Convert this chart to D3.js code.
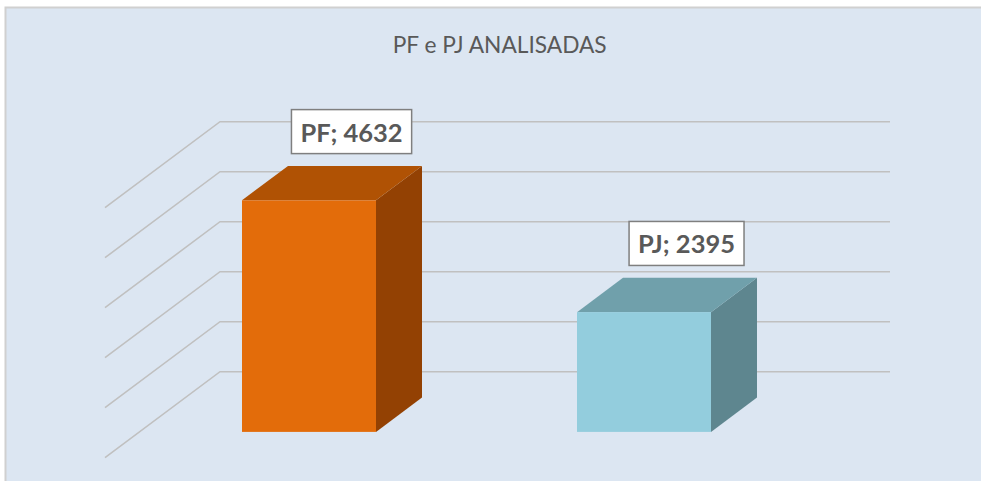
<!DOCTYPE html>
<html>
<head>
<meta charset="utf-8">
<script src="https://cdn.jsdelivr.net/npm/d3@7"></script>
<style>
  html, body { margin: 0; padding: 0; background: #fff; }
  svg { display: block; }
</style>
</head>
<body>
<svg id="output"></svg>
<script>
// chart data
const categories = ["PF", "PJ"];
const values = [4632, 2395];
const yTicks = [0, 1000, 2000, 3000, 4000, 5000];
const chartTitle = "PF e PJ ANALISADAS";

const width = 981;
const height = 481;

// 3d look: how far the front edge of the floor sits from the back wall
const depthX = -115;
const depthY = 86;
// bars sit between these depths (0 = back wall, 1 = front)
const barBack = 0.3;
const barFront = 0.7;

const svg = d3.select("#output")
    .attr("width", width)
    .attr("height", height);

// chart area with its thin grey border (only left/top visible)
svg.append("rect")
    .attr("x", 5.5).attr("y", 7.5)
    .attr("width", 990).attr("height", 490)
    .attr("fill", "#dce6f2")
    .attr("stroke", "#d0d0d0")
    .attr("stroke-width", 2);

const xScale = d3.scaleBand()
    .domain(categories)
    .range([222, 892])
    .paddingInner(0.6)
    .paddingOuter(0.3);

const yScale = d3.scaleLinear()
    .domain([0, 5000])
    .range([371.7, 121.7]);

function px(wallX, d){ return wallX + depthX * d; }
function py(wallY, d){ return wallY + depthY * d; }

// gridlines: diagonal on the side wall, then flat along the back wall
svg.append("g")
    .selectAll("polyline")
    .data(yTicks)
    .enter()
    .append("polyline")
    .attr("points", function(t){
        const y = yScale(t);
        return [[px(220, 1), py(y, 1)], [220, y], [890, y]].join(" ");
    })
    .attr("fill", "none")
    .attr("stroke", "#c0c0c0")
    .attr("stroke-width", 1.6);

const colors = [
    { front: "#e36c0a", top: "#b05204", side: "#934103" },
    { front: "#93cddd", top: "#70a0ab", side: "#5e868f" }
];

const bars = svg.append("g")
    .selectAll("g")
    .data(categories.map(function(c, i){ return { cat: c, val: values[i], col: colors[i] }; }))
    .enter()
    .append("g");

// side face
bars.append("polygon")
    .attr("fill", function(d){ return d.col.side; })
    .attr("points", function(d){
        const x1 = xScale(d.cat) + xScale.bandwidth();
        const yv = yScale(d.val), y0 = yScale(0);
        return [
            [px(x1, barFront), py(yv, barFront)],
            [px(x1, barBack), py(yv, barBack)],
            [px(x1, barBack), py(y0, barBack)],
            [px(x1, barFront), py(y0, barFront)]
        ].join(" ");
    });

// top face
bars.append("polygon")
    .attr("fill", function(d){ return d.col.top; })
    .attr("points", function(d){
        const x0 = xScale(d.cat), x1 = x0 + xScale.bandwidth();
        const yv = yScale(d.val);
        return [
            [px(x0, barFront), py(yv, barFront)],
            [px(x1, barFront), py(yv, barFront)],
            [px(x1, barBack), py(yv, barBack)],
            [px(x0, barBack), py(yv, barBack)]
        ].join(" ");
    });

// front face
bars.append("rect")
    .attr("fill", function(d){ return d.col.front; })
    .attr("x", function(d){ return px(xScale(d.cat), barFront); })
    .attr("y", function(d){ return py(yScale(d.val), barFront); })
    .attr("width", xScale.bandwidth())
    .attr("height", function(d){ return yScale(0) - yScale(d.val); });

// data labels in white boxes
const labels = bars.append("g");
labels.each(function(d){
    const g = d3.select(this);
    const cx = px(xScale(d.cat) + xScale.bandwidth() / 2, 0.33);
    const bottom = py(yScale(d.val), barBack) - 12.3;
    const box = g.append("rect")
        .attr("fill", "#ffffff")
        .attr("stroke", "#7f7f7f")
        .attr("stroke-width", 1.5);
    const txt = g.append("text")
        .attr("x", cx)
        .attr("y", bottom - 12)
        .attr("text-anchor", "middle")
        .attr("font-family", "Lato, 'Open Sans', sans-serif")
        .attr("font-weight", "bold")
        .attr("font-size", 25.5)
        .attr("fill", "#595959")
        .text(d.cat + "; " + d.val);
    const w = txt.node().getComputedTextLength() + 18;
    box.attr("x", cx - w / 2).attr("y", bottom - 44)
        .attr("width", w).attr("height", 44);
});

// title
svg.append("text")
    .attr("x", 499.7)
    .attr("y", 53.3)
    .attr("text-anchor", "middle")
    .attr("font-family", "Lato, 'Open Sans', sans-serif")
    .attr("font-size", 22.5)
    .attr("textLength", 214)
    .attr("lengthAdjust", "spacingAndGlyphs")
    .attr("fill", "#595959")
    .text(chartTitle);
</script>
</body>
</html>
